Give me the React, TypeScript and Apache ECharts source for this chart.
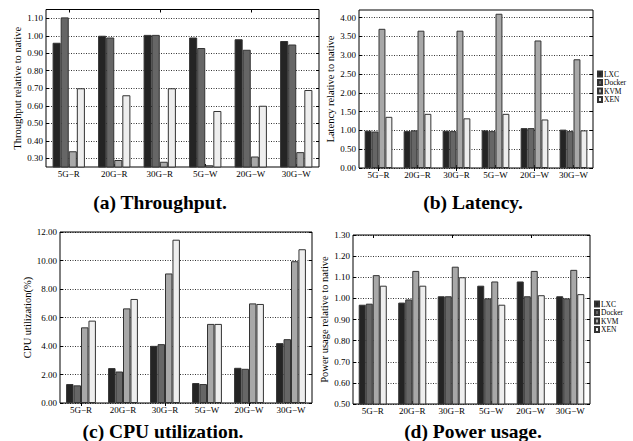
import React, { useEffect, useRef } from "react";
import * as echarts from "echarts";

const categories = ["5G\u2212R", "20G\u2212R", "30G\u2212R", "5G\u2212W", "20G\u2212W", "30G\u2212W"];
const seriesNames = ["LXC", "Docker", "KVM", "XEN"];

// (a) Throughput relative to native
const tpLXC = [0.96, 1.0, 1.005, 0.99, 0.98, 0.97];
const tpDocker = [1.105, 0.99, 1.005, 0.93, 0.92, 0.95];
const tpKVM = [0.34, 0.29, 0.28, 0.26, 0.31, 0.335];
const tpXEN = [0.7, 0.66, 0.7, 0.57, 0.6, 0.69];

// (b) Latency relative to native
const latLXC = [0.99, 0.98, 0.99, 1.0, 1.06, 1.02];
const latDocker = [0.97, 1.0, 0.98, 0.98, 1.06, 0.98];
const latKVM = [3.7, 3.65, 3.65, 4.1, 3.39, 2.89];
const latXEN = [1.36, 1.44, 1.32, 1.44, 1.29, 1.0];

// (c) CPU utilization (%)
const cpuLXC = [1.33, 2.45, 4.01, 1.4, 2.47, 4.2];
const cpuDocker = [1.24, 2.21, 4.13, 1.33, 2.4, 4.48];
const cpuKVM = [5.31, 6.64, 9.09, 5.55, 6.99, 9.95];
const cpuXEN = [5.78, 7.3, 11.46, 5.55, 6.95, 10.79];

// (d) Power usage relative to native
const pwLXC = [0.97, 0.98, 1.01, 1.06, 1.08, 1.01];
const pwDocker = [0.975, 0.995, 1.01, 1.0, 1.01, 1.0];
const pwKVM = [1.11, 1.13, 1.15, 1.08, 1.13, 1.135];
const pwXEN = [1.06, 1.06, 1.1, 0.97, 1.015, 1.02];

// tick labels
const tpTicks = [0.3, 0.4, 0.5, 0.6, 0.7, 0.8, 0.9, 1.0, 1.1];
const latTicks = [0, 0.5, 1.0, 1.5, 2.0, 2.5, 3.0, 3.5, 4.0];
const cpuTicks = [0, 2, 4, 6, 8, 10, 12];
const pwTicks = [0.5, 0.6, 0.7, 0.8, 0.9, 1.0, 1.1, 1.2, 1.3];

const captions = ["(a) Throughput.", "(b) Latency.", "(c) CPU utilization.", "(d) Power usage."];
const axisTitles = [
  "Throughput relative to native",
  "Latency relative to native",
  "CPU utilization(%)",
  "Power usage relative to native",
];

const FONT = "'Liberation Serif', 'Times New Roman', serif";
const fills = ["#242424", "#666666", "#a8a8a8", "#eeeeee"];

export default function App() {
  const ref = useRef<HTMLDivElement>(null);

  useEffect(() => {
    if (!ref.current) return;
    const chart = echarts.init(ref.current, undefined, { renderer: "svg" });

    const grids = [
      { left: 46, top: 9.5, width: 273, height: 157.5 },
      { left: 359, top: 10, width: 234, height: 158 },
      { left: 60, top: 232, width: 252, height: 171 },
      { left: 353, top: 235, width: 237, height: 169 },
    ];
    const ranges = [
      { min: 0.25, max: 1.15, ticks: tpTicks },
      { min: 0, max: 4.2, ticks: latTicks },
      { min: 0, max: 12, ticks: cpuTicks },
      { min: 0.5, max: 1.3, ticks: pwTicks },
    ];
    const nameGaps = [20, 15, 21, 18];
    const panelData = [
      [tpLXC, tpDocker, tpKVM, tpXEN],
      [latLXC, latDocker, latKVM, latXEN],
      [cpuLXC, cpuDocker, cpuKVM, cpuXEN],
      [pwLXC, pwDocker, pwKVM, pwXEN],
    ];

    const xAxes: any[] = [];
    const yAxes: any[] = [];
    grids.forEach((_, i) => {
      xAxes.push({
        type: "category",
        gridIndex: i,
        data: categories,
        axisLine: { show: false },
        axisTick: { show: true, inside: true, alignWithLabel: true, length: 3, lineStyle: { color: "#000" } },
        axisLabel: { fontFamily: FONT, fontSize: 9, color: "#000", margin: 2, interval: 0 },
        splitLine: { show: false },
      });
    });
    grids.forEach((_, i) => {
      xAxes.push({
        type: "category",
        gridIndex: i,
        position: "top",
        data: categories,
        axisLine: { show: false },
        axisTick: { show: true, inside: true, alignWithLabel: true, length: 3, lineStyle: { color: "#000" } },
        axisLabel: { show: false },
        splitLine: { show: false },
      });
    });
    grids.forEach((_, i) => {
      const r = ranges[i];
      yAxes.push({
        type: "value",
        gridIndex: i,
        min: r.min,
        max: r.max,
        name: axisTitles[i],
        nameLocation: "middle",
        nameGap: nameGaps[i],
        nameTextStyle: { fontFamily: FONT, fontSize: 10.5, color: "#000" },
        axisLine: { show: false },
        axisTick: { show: true, inside: true, length: 3, customValues: r.ticks, lineStyle: { color: "#000" } },
        axisLabel: {
          fontFamily: FONT,
          fontSize: 9,
          color: "#000",
          margin: 3,
          customValues: r.ticks,
          formatter: (v: number) => v.toFixed(2),
        },
        splitLine: { show: true, lineStyle: { color: "#000", type: [1, 1.5], width: 0.8 } },
      });
    });
    grids.forEach((_, i) => {
      const r = ranges[i];
      yAxes.push({
        type: "value",
        gridIndex: i,
        position: "right",
        min: r.min,
        max: r.max,
        axisLine: { show: false },
        axisTick: { show: true, inside: true, length: 3, customValues: r.ticks, lineStyle: { color: "#000" } },
        axisLabel: { show: false, customValues: r.ticks },
        splitLine: { show: false },
      });
    });

    const series: any[] = [];
    panelData.forEach((arrs, i) => {
      arrs.forEach((vals, k) => {
        series.push({
          type: "bar",
          name: seriesNames[k],
          xAxisIndex: i,
          yAxisIndex: i,
          data: vals,
          barGap: "0%",
          barCategoryGap: "29%",
          itemStyle: { color: fills[k], borderColor: "#333", borderWidth: 1 },
          emphasis: { disabled: true },
        });
      });
    });

    const legendCommon = {
      data: seriesNames,
      orient: "vertical",
      icon: "rect",
      itemWidth: 4,
      itemHeight: 5,
      itemGap: 0.5,
      padding: 0,
      selectedMode: false,
      textStyle: { fontFamily: FONT, fontSize: 7.5, color: "#000", padding: [0, 0, 0, -3] },
    };

    const captionPos = [
      [160, 202],
      [473, 202],
      [163, 431],
      [473, 431],
    ];

    chart.setOption({
      animation: false,
      backgroundColor: "#fff",
      grid: grids.map((g) => ({ ...g, show: true, borderColor: "#000", borderWidth: 1, backgroundColor: "transparent" })),
      xAxis: xAxes,
      yAxis: yAxes,
      series,
      legend: [
        { ...legendCommon, left: 597, top: 70 },
        { ...legendCommon, left: 594, top: 300 },
      ],
      graphic: captions.map((c, i) => ({
        type: "text",
        x: captionPos[i][0],
        y: captionPos[i][1],
        style: {
          text: c,
          fontFamily: FONT,
          fontWeight: "bold",
          fontSize: 19.5,
          fill: "#000",
          textAlign: "center",
          textVerticalAlign: "middle",
        },
      })),
    });

    return () => chart.dispose();
  }, []);

  return (
    <div
      ref={ref}
      style={{ position: "absolute", left: 0, top: 0, width: 633, height: 441 }}
    />
  );
}
